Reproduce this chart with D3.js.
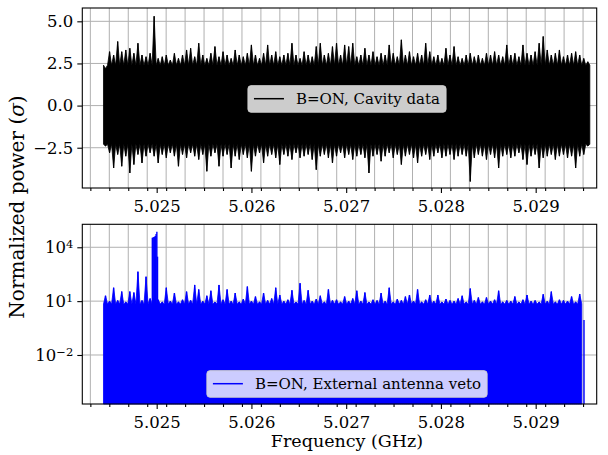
<!DOCTYPE html>
<html>
<head>
<meta charset="utf-8">
<script src="https://cdn.jsdelivr.net/npm/d3@7"></script>
<style>
  body { margin: 0; background: #fff; }
  text { font-family: "DejaVu Serif", "Liberation Serif", serif; fill: #000; }
</style>
</head>
<body>
<svg id="chart"></svg>
<script>
// frequency span of the scan (GHz), 120 equal bins
const freqStart = 5.02446,
      freqEnd = 5.02955;

// cavity data: per-bin maximum / minimum of the normalized power
const cavityMax = [
  2.2, 3.2, 3.0, 3.8, 3.2, 3.3, 3.4, 3.1, 3.7, 3.0,
  2.9, 3.1, 5.3, 2.8, 2.9, 3.0, 2.7, 3.1, 2.8, 3.0,
  3.3, 3.4, 2.9, 3.7, 3.0, 2.8, 3.1, 3.5, 2.9, 3.2,
  3.0, 2.8, 3.3, 3.0, 2.9, 3.1, 3.6, 3.0, 2.8, 3.1,
  3.6, 3.0, 3.2, 2.9, 3.0, 3.1, 3.7, 3.0, 2.8, 3.2,
  3.0, 2.9, 3.5, 3.7, 3.0, 3.1, 3.5, 3.7, 3.0, 3.6,
  3.5, 3.7, 2.9, 3.0, 3.4, 3.0, 3.2, 2.9, 3.1, 3.0,
  3.6, 3.1, 2.9, 3.9, 3.0, 3.2, 2.9, 3.1, 3.0, 3.7,
  3.2, 2.9, 3.0, 2.8, 3.4, 3.0, 3.5, 2.9, 2.8, 3.0,
  3.1, 2.9, 3.0, 2.8, 3.1, 3.0, 3.2, 3.0, 2.9, 3.6,
  3.0, 3.1, 2.9, 3.6, 3.1, 3.0, 3.2, 3.7, 4.1, 3.3,
  3.0, 3.1, 3.3, 2.9, 3.0, 3.1, 3.2, 3.0, 2.8, 2.6
];
const cavityMin = [
  -2.4, -2.8, -3.7, -2.9, -3.6, -3.0, -4.0, -3.5, -2.9, -3.4,
  -3.0, -2.8, -3.0, -3.4, -2.9, -3.1, -2.8, -3.0, -3.6, -2.9,
  -3.1, -2.8, -3.0, -3.2, -2.9, -3.9, -3.0, -2.8, -3.6, -3.0,
  -2.9, -3.7, -3.0, -3.2, -2.9, -3.1, -3.9, -3.0, -2.8, -3.4,
  -3.0, -2.9, -3.1, -3.5, -2.9, -3.0, -3.2, -2.8, -3.1, -3.0,
  -2.9, -3.2, -3.8, -3.0, -2.9, -3.1, -3.4, -3.0, -2.8, -3.1,
  -2.9, -3.2, -3.0, -2.9, -3.1, -4.0, -3.0, -2.9, -3.3, -3.0,
  -2.8, -3.1, -2.9, -3.5, -3.0, -2.9, -3.1, -3.4, -3.0, -2.9,
  -3.2, -3.0, -2.8, -3.1, -3.0, -2.9, -3.2, -3.0, -2.9, -3.0,
  -4.5, -3.1, -2.9, -3.0, -3.2, -2.9, -3.1, -3.7, -3.0, -2.9,
  -3.1, -3.0, -2.8, -3.2, -3.5, -3.0, -2.9, -3.7, -3.1, -3.0,
  -2.9, -3.2, -3.0, -2.9, -3.1, -3.0, -3.7, -3.0, -2.9, -2.4
];
// solid core of the noise band
const cavityBand = [-2.3, 2.4];

// external antenna veto: per-bin maximum power (null = below axis)
const vetoPower = [
  20, 10, 56, 11, 34, 9, 34, 30, 440, 11,
  230, 14, 15, 12, 9, 56, 10, 28, 9, 12,
  34, 11, 80, 45, 10, 20, 38, 9, 80, 12,
  45, 10, 28, 9, 13, 65, 10, 18, 9, 28,
  11, 14, 56, 22, 10, 12, 40, 9, 100, 11,
  40, 10, 13, 20, 9, 45, 11, 12, 9, 18,
  10, 14, 38, 10, 30, 9, 12, 11, 28, 10,
  56, 9, 13, 11, 18, 22, 10, 45, 9, 12,
  22, 10, 22, 9, 13, 11, 10, 14, 20, 9,
  50, 11, 16, 9, 16, 10, 12, 38, 9, 11,
  10, 18, 9, 12, 22, 10, 11, 9, 24, 10,
  34, 9, 12, 11, 10, 18, 9, 25, null, null
];
const vetoBand = 7;
// the strong tone near 5.025 GHz
const toneFreq = [5.024954, 5.024962, 5.024970, 5.024978, 5.024986, 5.024994, 5.025002, 5.025009];
const tonePower = [3.4e4, 3.5e4, 3.7e4, 3.9e4, 4.3e4, 5.5e4, 7.4e4, 3.0e3];
// lone line at the end of the scan
const tailFreq = [5.02951];
const tailPower = [0.9];

const xTicks = [5.025, 5.026, 5.027, 5.028, 5.029],
      cavityTicks = [-2.5, 0, 2.5, 5],
      vetoTicks = [1e-2, 1e1, 1e4],
      cavityLabel = 'B=ON, Cavity data',
      vetoLabel = 'B=ON, External antenna veto';

const width = 608,
      height = 455,
      left = 82.3,
      right = 596.7,
      font = '"DejaVu Serif", "Liberation Serif", serif',
      gridColor = '#b0b0b0',
      $chart = d3.select('#chart')
                 .attr('width', width)
                 .attr('height', height);

const x = d3.scaleLinear()
  .domain([5.024215, 5.029644])
  .range([left, right]);

const yTop = d3.scaleLinear()
  .domain([-4.89, 5.79])
  .range([188, 8]);

const yBot = d3.scaleLog()
  .domain([Math.pow(10, -4.73), Math.pow(10, 5.28)])
  .range([404, 224.3]);

const binWidth = (freqEnd - freqStart) / 119;
const binFreq = (i) => freqStart + i * binWidth;
const minorTicks = d3.range(5.0243, 5.02965, 0.0002).map((d) => +d.toFixed(4));

// outline that goes core -> bin extreme -> core, so each bin shows as a spike
function spikes(values, core) {
  const pts = [];
  values.forEach((v, i) => {
    if (v === null) return;
    pts.push({ f: binFreq(i) - binWidth / 2, v: core });
    pts.push({ f: binFreq(i), v: v });
    pts.push({ f: binFreq(i) + binWidth / 2, v: core });
  });
  return pts;
}

function drawFrame(y, yTickValues) {
  const [bottom, top] = y.range();
  const g = $chart.append('g');

  g.selectAll('.vgrid')
    .data(minorTicks)
    .enter()
    .append('line')
      .attr('x1', (d) => x(d))
      .attr('x2', (d) => x(d))
      .attr('y1', top)
      .attr('y2', bottom)
      .attr('stroke', gridColor)
      .attr('stroke-width', 1);

  g.selectAll('.hgrid')
    .data(yTickValues)
    .enter()
    .append('line')
      .attr('x1', left)
      .attr('x2', right)
      .attr('y1', (d) => y(d))
      .attr('y2', (d) => y(d))
      .attr('stroke', gridColor)
      .attr('stroke-width', 1);
}

function drawAxes(y, yTickValues, yFormat) {
  const [bottom, top] = y.range();
  const g = $chart.append('g');

  g.append('g')
    .attr('transform', `translate(0,${bottom})`)
    .call(d3.axisBottom(x).tickValues(minorTicks).tickSize(3).tickFormat(''))
    .call((a) => a.select('.domain').remove());

  const xAxis = g.append('g')
    .attr('transform', `translate(0,${bottom})`)
    .call(d3.axisBottom(x).tickValues(xTicks).tickSize(5).tickPadding(7.5)
      .tickFormat(d3.format('.3f')));
  xAxis.select('.domain').remove();

  const yAxis = g.append('g')
    .attr('transform', `translate(${left},0)`)
    .call(d3.axisLeft(y).tickValues(yTickValues).tickSize(5).tickPadding(4)
      .tickFormat(yFormat));
  yAxis.select('.domain').remove();

  g.selectAll('g').attr('font-family', font).attr('font-size', 16.5);
  g.selectAll('.tick text').attr('fill', '#000');
  g.selectAll('.tick line').attr('stroke', '#000').attr('stroke-width', 1.1);

  g.append('rect')
    .attr('x', left)
    .attr('y', top)
    .attr('width', right - left)
    .attr('height', bottom - top)
    .attr('fill', 'none')
    .attr('stroke', '#000')
    .attr('stroke-width', 1.1);

  return yAxis;
}

function drawLegend(label, color, cx, cy) {
  const g = $chart.append('g');
  const box = g.append('rect');
  const text = g.append('text')
    .attr('y', cy + 5)
    .style('font-size', '15px')
    .text(label);
  const tw = text.node().getComputedTextLength(),
        w = 6 + 30 + 12 + tw + 6,
        x0 = cx - w / 2;
  text.attr('x', x0 + 48);
  box.attr('x', x0)
    .attr('y', cy - 13)
    .attr('width', w)
    .attr('height', 26.5)
    .attr('rx', 3)
    .attr('fill', 'rgba(255,255,255,0.8)')
    .attr('stroke', '#d0d0d0')
    .attr('stroke-width', 1);
  g.append('line')
    .attr('x1', x0 + 6)
    .attr('x2', x0 + 36)
    .attr('y1', cy)
    .attr('y2', cy)
    .attr('stroke', color)
    .attr('stroke-width', 1.5);
}

// ---------- top panel: cavity data ----------
drawFrame(yTop, cavityTicks);

const upper = spikes(cavityMax, cavityBand[1]),
      lower = spikes(cavityMin, cavityBand[0]);

$chart.append('path')
  .datum(upper.map((d, i) => ({ f: d.f, hi: d.v, lo: lower[i].v })))
  .attr('d', d3.area()
    .x((d) => x(d.f))
    .y0((d) => yTop(d.lo))
    .y1((d) => yTop(d.hi)))
  .attr('fill', '#000')
  .attr('stroke', '#000')
  .attr('stroke-width', 0.8);

$chart.append('g')
  .selectAll('line')
  .data(cavityMax.map((v, i) => ({ f: binFreq(i), hi: v, lo: cavityMin[i] })))
  .enter()
  .append('line')
    .attr('x1', (d) => x(d.f))
    .attr('x2', (d) => x(d.f))
    .attr('y1', (d) => yTop(d.lo))
    .attr('y2', (d) => yTop(d.hi))
    .attr('stroke', '#000')
    .attr('stroke-width', 1.2);

drawAxes(yTop, cavityTicks, d3.format('.1f'));
drawLegend(cavityLabel, '#000', 347, 98.7);

// ---------- bottom panel: external antenna veto ----------
drawFrame(yBot, vetoTicks);

const vetoFloor = yBot.domain()[0];

$chart.append('path')
  .datum(spikes(vetoPower, vetoBand))
  .attr('d', d3.area()
    .x((d) => x(d.f))
    .y0(yBot(vetoFloor))
    .y1((d) => yBot(d.v)))
  .attr('fill', '#0000ff')
  .attr('stroke', '#0000ff')
  .attr('stroke-width', 0.8);

const vetoLines = vetoPower
  .map((v, i) => ({ f: binFreq(i), v: v }))
  .filter((d) => d.v !== null)
  .concat(toneFreq.map((f, i) => ({ f: f, v: tonePower[i] })))
  .concat(tailFreq.map((f, i) => ({ f: f, v: tailPower[i] })));

$chart.append('g')
  .selectAll('line')
  .data(vetoLines)
  .enter()
  .append('line')
    .attr('x1', (d) => x(d.f))
    .attr('x2', (d) => x(d.f))
    .attr('y1', yBot(vetoFloor))
    .attr('y2', (d) => yBot(d.v))
    .attr('stroke', '#0000ff')
    .attr('stroke-width', 1.4);

const yAxisBot = drawAxes(yBot, vetoTicks, () => '');
yAxisBot.selectAll('.tick text')
  .each(function (d) {
    const t = d3.select(this);
    const e = Math.round(Math.log10(d));
    t.append('tspan').text('10');
    t.append('tspan')
      .attr('dy', '-0.45em')
      .attr('font-size', 11.5)
      .text(e < 0 ? '\u2212' + (-e) : e);
  });

drawLegend(vetoLabel, '#0000ff', 347, 383.7);

// ---------- labels ----------
$chart.append('text')
  .attr('x', 347)
  .attr('y', 447)
  .attr('text-anchor', 'middle')
  .style('font-size', '17.5px')
  .text('Frequency (GHz)');

const ylab = $chart.append('text')
  .attr('transform', 'translate(24,207) rotate(-90)')
  .attr('text-anchor', 'middle')
  .style('font-size', '20px');
ylab.append('tspan').text('Normalized power (');
ylab.append('tspan').style('font-style', 'italic').text('\u03c3');
ylab.append('tspan').text(')');
</script>
</body>
</html>
